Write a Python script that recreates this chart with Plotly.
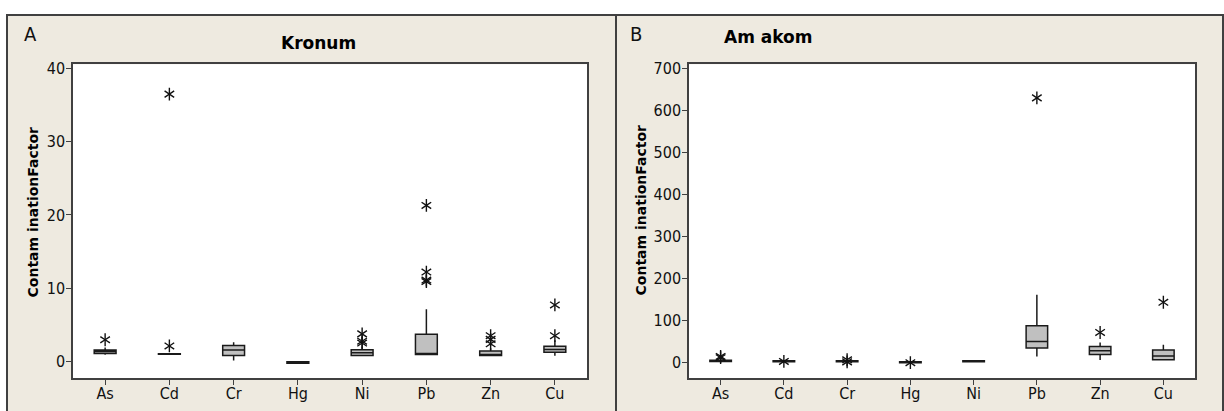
import plotly.graph_objects as go

W, H = 1224, 411

categories = ["As", "Cd", "Cr", "Hg", "Ni", "Pb", "Zn", "Cu"]

# Panel A - Kronum (box statistics)
a_q1 = [1.08, 0.97, 0.81, -0.26, 0.81, 0.95, 0.81, 1.24]
a_median = [1.35, 1.00, 1.54, -0.15, 1.18, 1.00, 0.90, 1.61]
a_q3 = [1.54, 1.03, 2.16, -0.04, 1.57, 3.70, 1.40, 2.05]
a_low = [0.90, 0.95, 0.10, -0.26, 0.72, 0.90, 0.75, 0.77]
a_high = [1.89, 1.05, 2.62, -0.04, 1.97, 7.10, 1.80, 2.89]
a_out_cat = ["As", "Cd", "Cd", "Ni", "Ni", "Ni", "Pb", "Pb", "Pb", "Pb", "Zn", "Zn", "Zn", "Cu", "Cu"]
a_out_val = [2.95, 36.5, 2.1, 3.75, 2.75, 2.5, 21.3, 12.2, 11.1, 10.9, 3.5, 3.0, 2.4, 7.7, 3.5]

# Panel B - Am akom
b_q1 = [2.0, 1.5, 1.5, -1.0, 1.5, 33.8, 18.8, 6.3]
b_median = [4.0, 2.5, 2.5, 0.0, 2.5, 49.4, 27.5, 15.0]
b_q3 = [5.0, 3.5, 3.5, 1.0, 3.5, 87.0, 37.6, 29.2]
b_low = [1.0, 1.0, 0.5, -1.5, 1.0, 14.0, 5.6, 5.0]
b_high = [7.0, 4.0, 4.0, 1.5, 4.0, 161.0, 47.0, 41.6]
b_out_cat = ["As", "As", "Cd", "Cr", "Cr", "Hg", "Pb", "Zn", "Cu"]
b_out_val = [14.0, 11.0, 2.0, 6.0, 1.0, -1.0, 630.0, 71.0, 143.0]

a_ticks = [0, 10, 20, 30, 40]
b_ticks = [0, 100, 200, 300, 400, 500, 600, 700]

BEIGE = "#EEEAE0"
FRAME = "#404040"
BOXFILL = "#C0C0C0"
TICKFONT = dict(family="DejaVu Sans Condensed, Liberation Sans Narrow, DejaVu Sans, sans-serif", size=16, color="#111111")
BOLD = "DejaVu Sans, Verdana, sans-serif"

def px(x):
    return x / W

def py(y):
    return 1 - y / H

fig = go.Figure()

for (q1, med, q3, lo, hi, oc, ov, xa, ya) in [
    (a_q1, a_median, a_q3, a_low, a_high, a_out_cat, a_out_val, "x", "y"),
    (b_q1, b_median, b_q3, b_low, b_high, b_out_cat, b_out_val, "x2", "y2"),
]:
    fig.add_trace(go.Box(
        x=categories, q1=q1, median=med, q3=q3, lowerfence=lo, upperfence=hi,
        boxpoints=False, width=0.34, whiskerwidth=0,
        fillcolor=BOXFILL, line=dict(color="#1a1a1a", width=1.5),
        xaxis=xa, yaxis=ya, showlegend=False, hoverinfo="skip",
    ))
    for sym in ["y-up-open", "y-down-open"]:
        fig.add_trace(go.Scatter(
            x=oc, y=ov, mode="markers",
            marker=dict(symbol=sym, size=8, line=dict(color="#111111", width=1.4), color="#111111"),
            xaxis=xa, yaxis=ya, showlegend=False, hoverinfo="skip",
        ))

axis_common = dict(
    showline=True, linecolor=FRAME, linewidth=1.5, mirror=True,
    ticks="outside", ticklen=5, tickcolor=FRAME, tickwidth=1,
    showgrid=False, zeroline=False, tickfont=TICKFONT,
)

shapes = [
    dict(type="rect", xref="paper", yref="paper", x0=px(7), x1=px(616), y0=-0.02, y1=py(10),
         fillcolor=BEIGE, line=dict(color=FRAME, width=2), layer="below"),
    dict(type="rect", xref="paper", yref="paper", x0=px(616), x1=px(1223), y0=-0.02, y1=py(10),
         fillcolor=BEIGE, line=dict(color=FRAME, width=2), layer="below"),
    dict(type="rect", xref="paper", yref="paper", x0=px(73), x1=px(587), y0=py(378), y1=py(60),
         fillcolor="white", line=dict(width=0), layer="below"),
    dict(type="rect", xref="paper", yref="paper", x0=px(689), x1=px(1195), y0=py(378), y1=py(60),
         fillcolor="white", line=dict(width=0), layer="below"),
]

def ann(text, x, y, font, angle=0):
    return dict(text=text, x=px(x), y=py(y), xref="paper", yref="paper", showarrow=False,
                xanchor="center", yanchor="middle", textangle=angle, font=font)

annotations = [
    ann("A", 30, 29, dict(family="DejaVu Sans Condensed, DejaVu Sans, sans-serif", size=20, color="#111111")),
    ann("B", 636, 29, dict(family="DejaVu Sans Condensed, DejaVu Sans, sans-serif", size=20, color="#111111")),
    ann("<b>Kronum</b>", 318, 38, dict(family=BOLD, size=17, color="#000000")),
    ann("<b>Am akom</b>", 768, 32, dict(family=BOLD, size=17, color="#000000")),
    ann("<b>Contam inationFactor</b>", 33, 210, dict(family=BOLD, size=14, color="#000000"), -90),
    ann("<b>Contam inationFactor</b>", 641, 208, dict(family=BOLD, size=14, color="#000000"), -90),
]

fig.update_layout(
    width=W, height=H,
    margin=dict(l=0, r=0, t=0, b=0),
    paper_bgcolor="white",
    plot_bgcolor="rgba(0,0,0,0)",
    xaxis=dict(domain=[px(73), px(587)], anchor="y", type="category",
               categoryorder="array", categoryarray=categories, range=[-0.5, 7.5],
               ticklabelstandoff=-5, **axis_common),
    yaxis=dict(domain=[py(378), py(60)], anchor="x", range=[-2.33, 40.58],
               tickvals=a_ticks, ticklabelstandoff=-2, **axis_common),
    xaxis2=dict(domain=[px(689), px(1195)], anchor="y2", type="category",
                categoryorder="array", categoryarray=categories, range=[-0.5, 7.5],
                ticklabelstandoff=-5, **axis_common),
    yaxis2=dict(domain=[py(378), py(60)], anchor="x2", range=[-38.4, 710.1],
                tickvals=b_ticks, ticklabelstandoff=-2, **axis_common),
    shapes=shapes,
    annotations=annotations,
)

fig.write_html("out.html", config={"displayModeBar": False},
               post_script="document.body.style.margin='0';document.body.style.overflow='hidden';")
